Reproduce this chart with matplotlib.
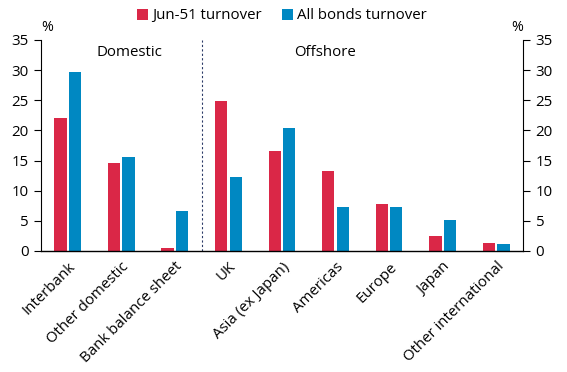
import numpy as np
import matplotlib.pyplot as plt

plt.rcParams['font.family'] = ['Open Sans', 'DejaVu Sans']

categories = ['Interbank', 'Other domestic', 'Bank balance sheet', 'UK',
              'Asia (ex Japan)', 'Americas', 'Europe', 'Japan', 'Other international']
jun51 = [22.0, 14.6, 0.5, 24.8, 16.6, 13.3, 7.8, 2.5, 1.3]
all_bonds = [29.7, 15.6, 6.6, 12.3, 20.4, 7.3, 7.3, 5.1, 1.2]
yticks = [0, 5, 10, 15, 20, 25, 30, 35]

red = '#DA2747'
blue = '#0088C2'
fs = 10.8

fig = plt.figure(figsize=(5.67, 3.72), dpi=100)
ax = fig.add_axes([0.0723, 0.3253, 0.8501, 0.5672])

x = np.arange(len(categories))
w = 0.23
ax.bar(x - 0.135, jun51, w, color=red, label='Jun-51 turnover')
ax.bar(x + 0.135, all_bonds, w, color=blue, label='All bonds turnover')

ax.set_xlim(-0.5, len(categories) - 0.5)
ax.set_ylim(0, 35)
ax.set_yticks(yticks)
ax.set_xticks(x)
ax.set_xticklabels(categories, rotation=45, ha='right', rotation_mode='anchor', fontsize=fs)
ax.tick_params(axis='x', length=0, pad=6)
ax.tick_params(axis='y', labelsize=fs, length=5, width=0.8, pad=4)
for s in ['top', 'right']:
    ax.spines[s].set_visible(False)
ax.spines['left'].set_linewidth(0.8)
ax.spines['bottom'].set_linewidth(1.0)

ax2 = ax.twinx()
ax2.set_ylim(0, 35)
ax2.set_yticks(yticks)
ax2.tick_params(axis='y', labelsize=fs, length=5, width=0.8, pad=4)
for s in ['top', 'left', 'bottom']:
    ax2.spines[s].set_visible(False)
ax2.spines['right'].set_linewidth(0.8)

ax.axvline(2.5, color='#2B3A67', linestyle=(0, (2, 2)), linewidth=0.8)

ax.text(1.15, 33.0, 'Domestic', ha='center', va='center', fontsize=fs)
ax.text(4.8, 33.0, 'Offshore', ha='center', va='center', fontsize=fs)

ax.text(0.0, 1.025, '%', transform=ax.transAxes, ha='left', va='bottom', fontsize=fs - 0.5)
ax2.text(1.0, 1.025, '%', transform=ax2.transAxes, ha='right', va='bottom', fontsize=fs - 0.5)

ax.legend(loc='lower center', bbox_to_anchor=(0.5, 1.05), ncol=2, frameon=False,
          fontsize=fs, handlelength=0.75, handleheight=0.75, handletextpad=0.3,
          columnspacing=1.3, borderaxespad=0)

fig.savefig('out.png', dpi=100)
